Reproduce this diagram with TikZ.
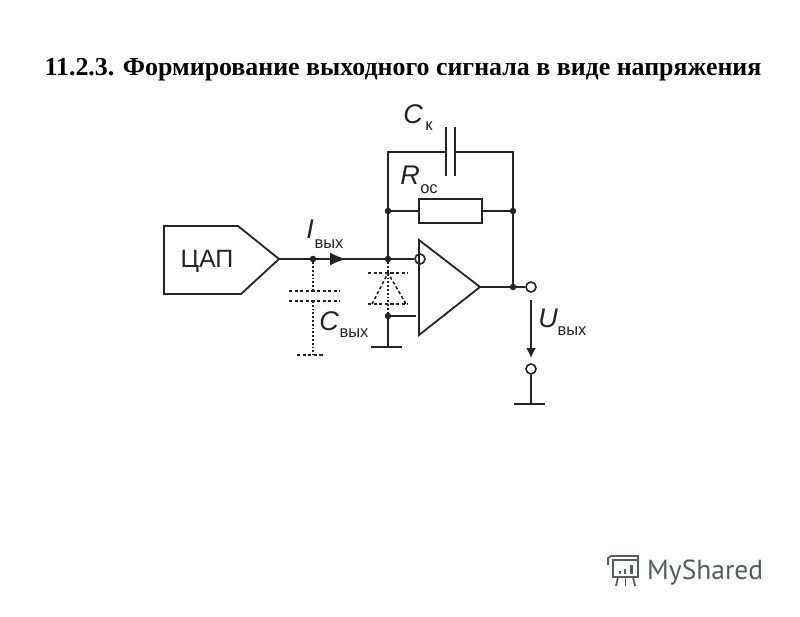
\documentclass[tikz,border=0pt]{standalone}
\usepackage{fontspec}
\setmainfont{Liberation Serif}
\setsansfont{Liberation Sans}
\newfontfamily\logofont{PT Sans}
\usetikzlibrary{arrows.meta}
\definecolor{inkgray}{RGB}{35,35,35}
\definecolor{logogray}{RGB}{88,92,92}
\tikzset{
  wire/.style={inkgray, line width=1.8pt},
  dotwire/.style={inkgray, line width=1.8pt, dash pattern=on 1.8pt off 2pt},
  dashwire/.style={inkgray, line width=1.6pt, dash pattern=on 3.2pt off 2.4pt},
  junc/.style={circle, fill=inkgray, inner sep=0pt, minimum size=6.5pt},
  term/.style={circle, draw=inkgray, fill=white, line width=1.6pt, inner sep=0pt, minimum size=10pt},
  mainsym/.style={inkgray, font=\sffamily\itshape\fontsize{27}{27}\selectfont, inner sep=0pt},
  subsym/.style={inkgray, font=\sffamily\fontsize{16.5}{16.5}\selectfont, inner sep=0pt}
}
\begin{document}
\begin{tikzpicture}[x=1pt, y=-1pt]
  \useasboundingbox (0,0) rectangle (800,616);

  % Title
  \node[font=\bfseries\fontsize{25.9}{28}\selectfont, inner sep=0pt, anchor=base] (title) at (403,75)
    {11.2.3. Формирование выходного сигнала в виде напряжения};

  % DAC block
  \draw[wire] (164,226) -- (238,226) -- (279,259) -- (241,294) -- (164,294) -- cycle;
  \node[inkgray, font=\sffamily\fontsize{25}{25}\selectfont, inner sep=0pt] (dac) at (207,261) {ЦАП};
  \coordinate (dacout) at (279,259);

  % Junctions and terminals
  \node[junc] (jcap) at (313,259) {};
  \node[junc] (jin) at (388,259) {};
  \node[junc] (jrl) at (388,211) {};
  \node[junc] (jrr) at (513,211) {};
  \node[junc] (jgnd) at (388,316) {};
  \node[junc] (jout) at (513,287) {};
  \node[term] (tinv) at (420,259) {};
  \node[term] (tout) at (531,287) {};
  \node[term] (tlow) at (531,369) {};
  \coordinate (tl) at (388,152);
  \coordinate (tr) at (513,152);
  \coordinate (capl) at (446,152);
  \coordinate (capr) at (455,152);
  \coordinate (gnda) at (388,347);
  \coordinate (gndb) at (531,405);

  % Input line
  \draw[wire] (dacout) -- (jcap) -- (jin) -- (tinv);
  \draw[wire, -{Latex[length=16pt,width=13pt]}] (jcap) -- (346,259);

  % Feedback capacitor
  \draw[wire] (jin) -- (jrl) -- (tl) -- (capl);
  \draw[wire] (capr) -- (tr) -- (jrr) -- (jout);
  \draw[wire] (446,127) -- (446,176);
  \draw[wire] (455,127) -- (455,176);

  % Feedback resistor
  \node[draw=inkgray, line width=1.8pt, minimum width=63pt, minimum height=24pt, inner sep=0pt] (rfb) at (450.5,211) {};
  \draw[wire] (jrl) -- (rfb);
  \draw[wire] (rfb) -- (jrr);

  % Op amp
  \draw[wire] (419,240) -- (480,287) -- (419,335) -- cycle;
  \coordinate (optip) at (480,287);
  \draw[wire] (optip) -- (jout) -- (tout);
  \draw[wire] (jgnd) -- (416,316);
  \draw[wire] (jgnd) -- (gnda);
  \draw[wire] (371,347) -- (402,347);

  % Parasitic capacitance (dotted)
  \draw[dotwire] (jcap) -- (313,291);
  \draw[dotwire] (313,301) -- (313,355);
  \draw[dashwire] (289,291) -- (340,291);
  \draw[dashwire] (289,301) -- (340,301);
  \draw[dashwire] (297,355) -- (323,355);

  % Diode (dotted)
  \draw[dotwire] (jin) -- (jgnd);
  \draw[dashwire] (368,273) -- (408,273);
  \draw[dashwire] (368,304) -- (408,304);
  \draw[dashwire] (372,304) -- (388,273) -- (406,304);

  % Output voltage
  \draw[wire, -{Latex[length=10pt,width=10pt]}] (531,300) -- (531,358);
  \draw[wire] (tlow) -- (gndb);
  \draw[wire] (514,404) -- (545,404);

  % Labels
  \node[mainsym] (lbli) at (310,229) {I};
  \node[subsym] (lbliv) at (329,244) {вых};
  \node[mainsym] (lblc) at (329,321) {C};
  \node[subsym] (lblcv) at (354,333) {вых};
  \node[mainsym] (lblck) at (413,114) {C};
  \node[subsym] (lblckv) at (429,126) {к};
  \node[mainsym] (lblr) at (410,175) {R};
  \node[subsym] (lblrv) at (429,189) {ос};
  \node[mainsym] (lblu) at (548,318) {U};
  \node[subsym] (lbluv) at (572,331) {вых};

  % Logo
  \node[logogray, font=\logofont\fontsize{27.5}{27}\selectfont, inner sep=0pt, anchor=base west] (logo) at (647,579) {MyShared};
  \draw[logogray, line width=1.8pt] (613,560) rectangle (638,577);
  \draw[logogray, line width=1.8pt] (608,565) -- (608,558) -- (611,556) -- (638,556) -- (638,560);
  \draw[logogray, line width=1.8pt] (618,577) -- (616,586);
  \draw[logogray, line width=1.8pt] (625.5,577) -- (625.5,586);
  \draw[logogray, line width=1.8pt] (633,577) -- (635,586);
  \fill[logogray] (619,571) rectangle (621,574);
  \fill[logogray] (624,569) rectangle (626,574);
  \fill[logogray] (630,565) rectangle (632.5,574);
\end{tikzpicture}
\end{document}
